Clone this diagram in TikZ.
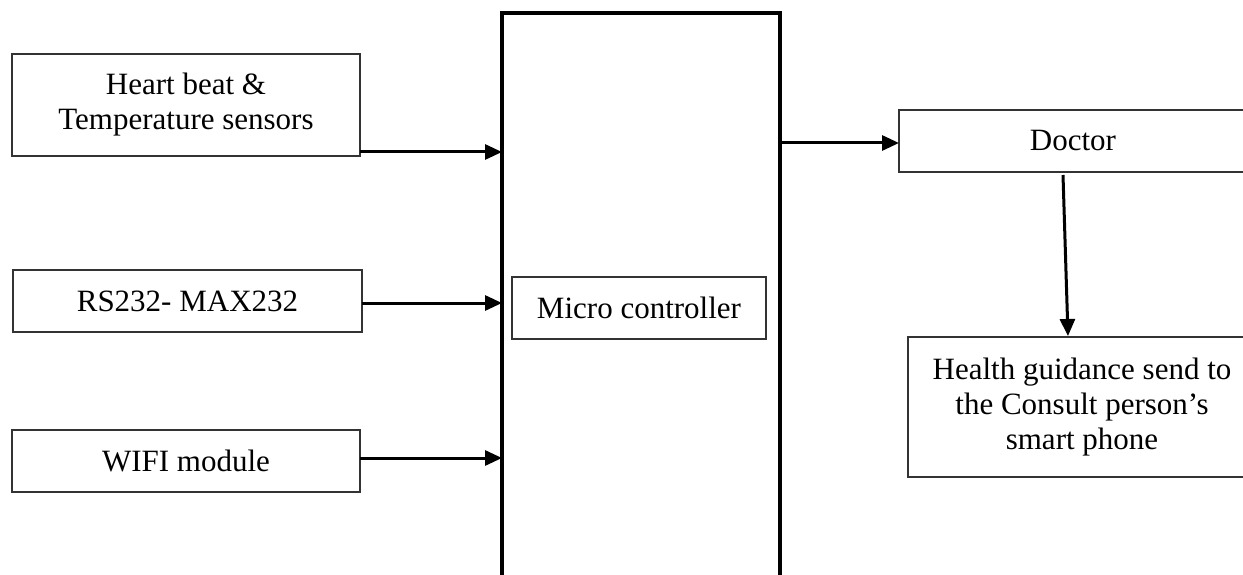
\documentclass[tikz,border=0pt]{standalone}
\usepackage{fontspec}
\setmainfont{Liberation Serif}
\usetikzlibrary{arrows.meta,calc}
\tikzset{
  blk/.style={draw=black!80, line width=1.5pt, rectangle, inner sep=0pt, outer sep=0pt, anchor=north west, align=center, font=\fontsize{31}{35}\selectfont},
  bigblk/.style={draw=black, line width=3.4pt, rectangle, inner sep=0pt, outer sep=0pt, anchor=north west},
  arr/.style={line width=3pt, -{Triangle[length=17pt,width=15pt]}}
}
\begin{document}
\begin{tikzpicture}[x=1pt,y=-1pt]
\useasboundingbox (0,0) rectangle (1243,575);
\fill[white] (0,0) rectangle (1243,575);
\clip (0,0) rectangle (1243,575);
\node[bigblk, minimum width=278pt, minimum height=620pt] (mcu) at (502,13) {};
\node[blk, minimum width=254pt, minimum height=62pt] (mc) at (512,277) {Micro controller};
\node[blk, minimum width=348pt, minimum height=102pt] (heart) at (12,54) {Heart beat \&\\Temperature sensors};
\node[blk, minimum width=349pt, minimum height=62pt] (rs) at (13,270) {RS232- MAX232};
\node[blk, minimum width=348pt, minimum height=62pt] (wifi) at (12,430) {WIFI module};
\node[blk, minimum width=348pt, minimum height=62pt] (doctor) at (899,110) {Doctor};
\node[blk, minimum width=348pt, minimum height=140pt] (health) at (908,337) {Health guidance send to\\the Consult person’s\\smart phone};
\coordinate (h1) at ($(heart.south east)+(0,-4)$);
\draw[arr] (h1) -- (mcu.west |- h1);
\coordinate (r1) at ($(rs.east)+(0,2)$);
\draw[arr] (r1) -- (mcu.west |- r1);
\coordinate (w1) at ($(wifi.east)+(0,-3)$);
\draw[arr] (w1) -- (mcu.west |- w1);
\coordinate (d1) at ($(doctor.west)+(0,2)$);
\draw[arr] (mcu.east |- d1) -- (d1);
\draw[arr] ($(doctor.south west)+(164,3)$) -- ($(health.north west)+(160,-1)$);
\end{tikzpicture}
\end{document}
